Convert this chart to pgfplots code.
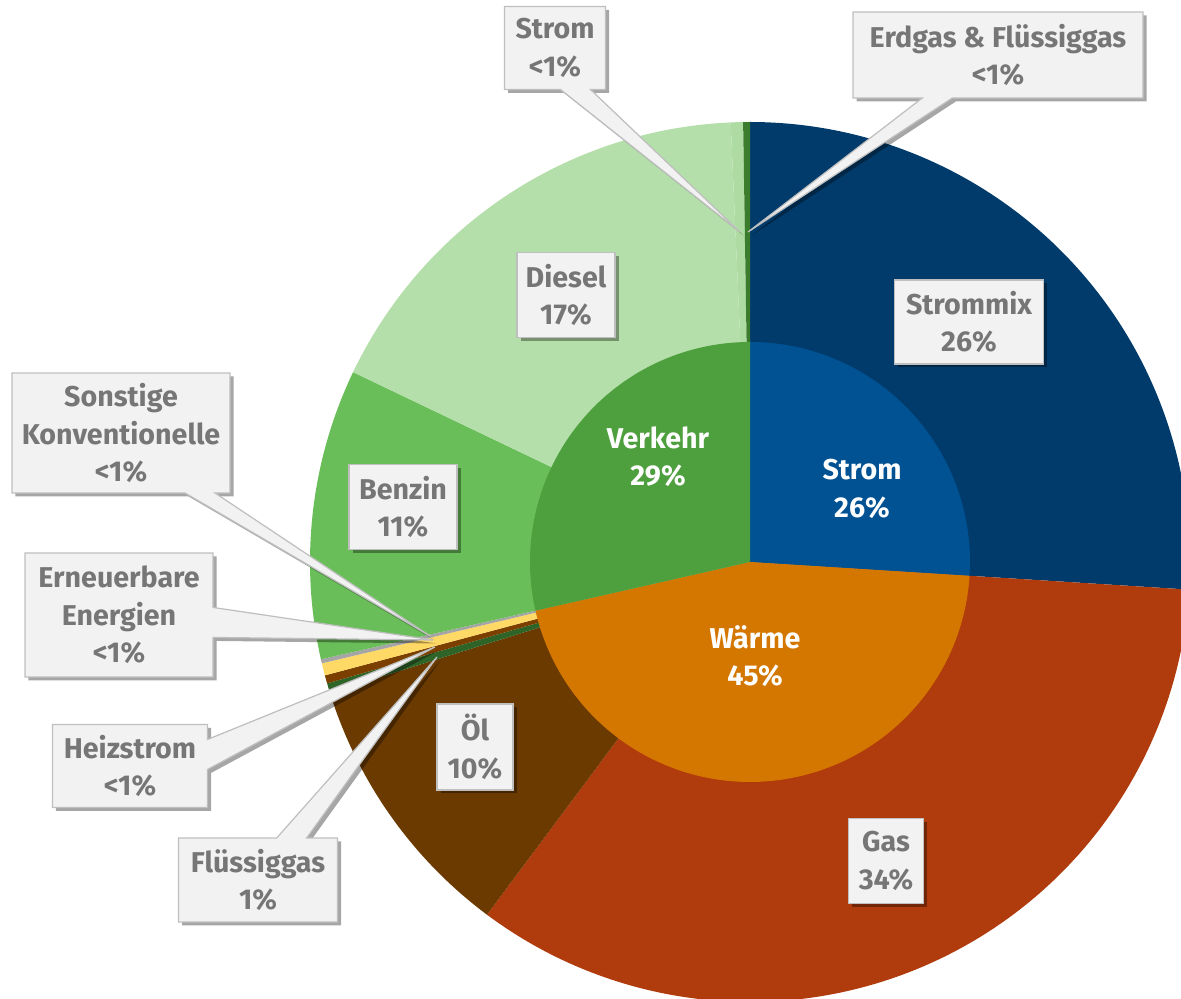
\documentclass[border=0pt]{standalone}
\usepackage{pgfplots}
\pgfplotsset{compat=1.18}
\usepackage{fontspec}
\setmainfont{Fira Sans}
\usetikzlibrary{shapes.callouts,shadows}

\definecolor{strommix}{HTML}{003B6B}
\definecolor{strominner}{HTML}{005293}
\definecolor{gas}{HTML}{B03B0C}
\definecolor{waerme}{HTML}{D47700}
\definecolor{oel}{HTML}{6A3A00}
\definecolor{fluessig}{HTML}{2E6428}
\definecolor{heizstrom}{HTML}{7B4000}
\definecolor{erneuerbar}{HTML}{FFD966}
\definecolor{sonstige}{HTML}{A5A5A5}
\definecolor{verkehr}{HTML}{4E9F3D}
\definecolor{benzin}{HTML}{6ABE59}
\definecolor{diesel}{HTML}{B4DFAA}
\definecolor{stromv}{HTML}{ADDBA1}
\definecolor{erdgas}{HTML}{3C7D2D}
\definecolor{boxfill}{HTML}{F2F2F2}
\definecolor{boxline}{HTML}{BFBFBF}
\definecolor{txtgray}{HTML}{767676}

% one wedge: from (%), to (%), radius, colour -- clockwise from 12 o'clock
\newcommand{\slice}[4]{%
  \addplot[draw=none, fill=#4, domain=90-3.6*#2:90-3.6*#1, samples=150, variable=\t]
    ({750+#3*cos(\t)},{437+#3*sin(\t)}) -- (axis cs:750,437) -- cycle;}

\tikzset{
  lbl/.style={fill=boxfill, draw=boxline, line width=0.7pt, text=txtgray,
    font=\bfseries\fontsize{16.3}{21.3}\selectfont, align=center, inner sep=0pt,
    drop shadow={shadow xshift=0.7mm, shadow yshift=-0.7mm, opacity=0.35, fill=black}},
  co/.style={lbl, rectangle callout, callout absolute pointer={#1},
    callout pointer width=6mm},
  inlbl/.style={text=white, font=\bfseries\fontsize{16.3}{21.3}\selectfont, align=center}
}

\begin{document}
\begin{tikzpicture}
\begin{axis}[x=0.2mm, y=0.2mm, xmin=0, xmax=1181, ymin=0, ymax=999,
  hide axis, clip=true, axis line style={draw=none}]

% outer ring (sources)
\slice{0}{26}{440}{strommix}
\slice{26}{60.2}{440}{gas}
\slice{60.2}{70.2}{440}{oel}
\slice{70.2}{70.55}{440}{fluessig}
\slice{70.55}{70.85}{440}{heizstrom}
\slice{70.85}{71.3}{440}{erneuerbar}
\slice{71.3}{71.45}{440}{sonstige}
\slice{71.45}{82.1}{440}{benzin}
\slice{82.1}{99.3}{440}{diesel}
\slice{99.3}{99.75}{440}{stromv}
\slice{99.75}{100}{440}{erdgas}

% inner pie (sectors)
\slice{0}{26}{220}{strominner}
\slice{26}{71.45}{220}{waerme}
\slice{71.45}{100}{220}{verkehr}

% labels
\node[inlbl] at (axis cs:658,542) {Verkehr\\29\%};
\node[inlbl] at (axis cs:862,510) {Strom\\26\%};
\node[inlbl] at (axis cs:755,343) {Wärme\\45\%};

\node[lbl, minimum width=29.8mm, minimum height=16.8mm] at (axis cs:969,677) {Strommix\\26\%};
\node[lbl, minimum width=19.6mm, minimum height=17mm] at (axis cs:566,704) {Diesel\\17\%};
\node[lbl, minimum width=21.6mm, minimum height=17mm] at (axis cs:403,492) {Benzin\\11\%};
\node[lbl, minimum width=15.2mm, minimum height=17.2mm] at (axis cs:475,252) {Öl\\10\%};
\node[lbl, minimum width=15mm, minimum height=17mm] at (axis cs:886,138) {Gas\\34\%};

\node[co={(axis cs:740,767)}, minimum width=20.2mm, minimum height=16.6mm] at (axis cs:555,951) {Strom\\<1\%};
\node[co={(axis cs:748,767)}, minimum width=58mm, minimum height=17.2mm] at (axis cs:998,944) {Erdgas \& Flüssiggas\\<1\%};
\node[co={(axis cs:430,363)}, minimum width=43.6mm, minimum height=24mm] at (axis cs:121,566) {Sonstige\\Konventionelle\\<1\%};
\node[co={(axis cs:433,359)}, minimum width=37.6mm, minimum height=24.8mm] at (axis cs:119,384) {Erneuerbare\\Energien\\<1\%};
\node[co={(axis cs:435,352)}, minimum width=31mm, minimum height=16.6mm] at (axis cs:130,233) {Heizstrom\\<1\%};
\node[co={(axis cs:437,342)}, minimum width=31.8mm, minimum height=16.8mm] at (axis cs:258,119) {Flüssiggas\\1\%};
\end{axis}
\pgfresetboundingbox
\path[use as bounding box] (current axis.south west) rectangle (current axis.north east);
\end{tikzpicture}
\end{document}
